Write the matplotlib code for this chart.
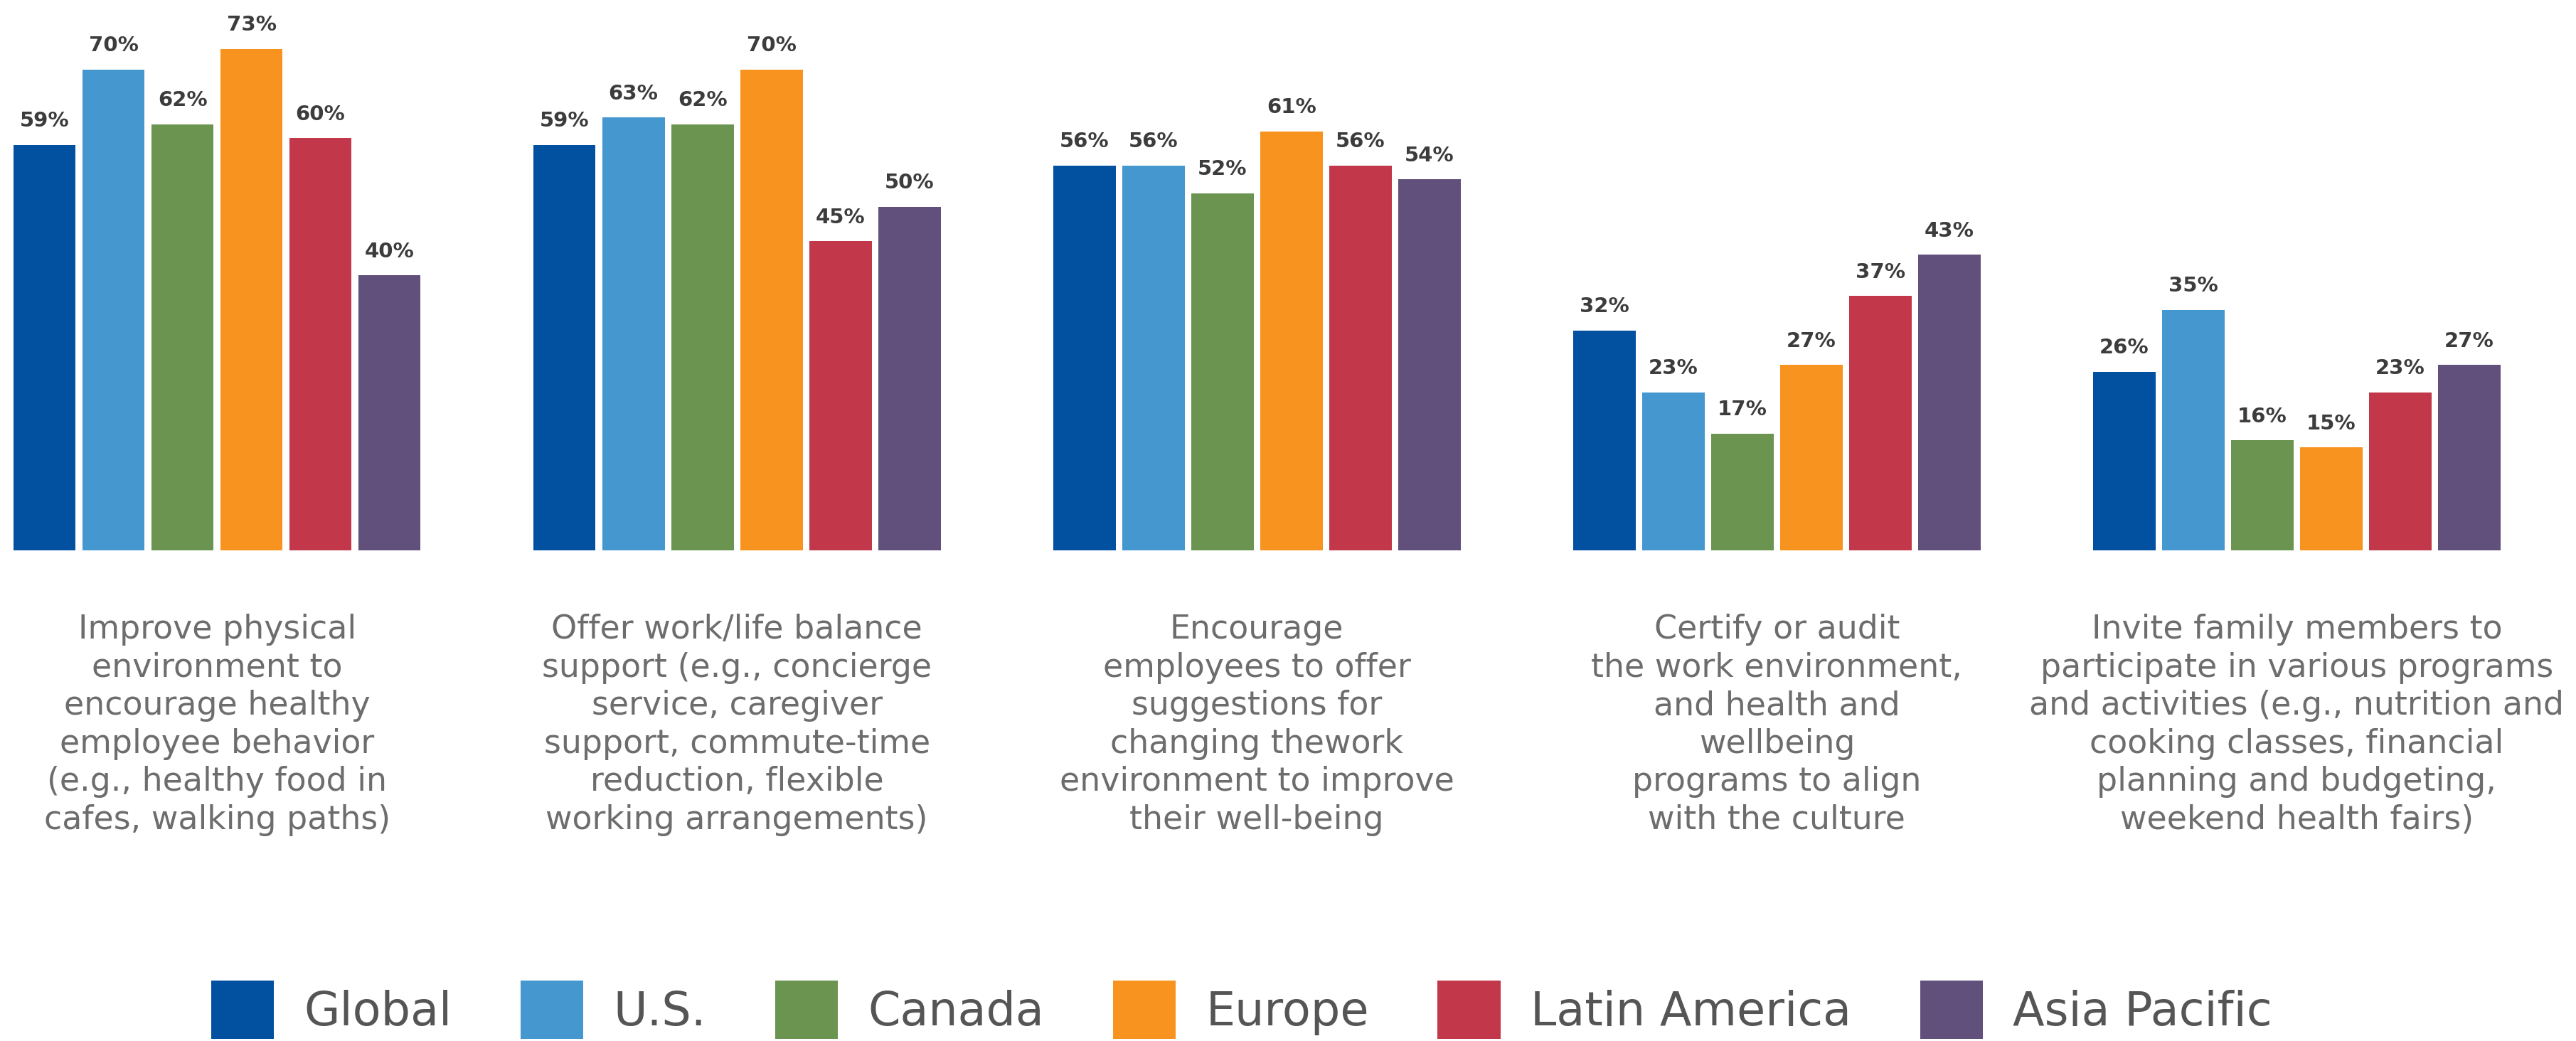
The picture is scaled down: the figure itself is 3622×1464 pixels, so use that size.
import matplotlib
matplotlib.use("Agg")
import matplotlib.pyplot as plt
import matplotlib.transforms as mtransforms
import numpy as np

# Survey results (% of employers) by region
regions = ["Global", "U.S.", "Canada", "Europe", "Latin America", "Asia Pacific"]
colors = ["#0251a1", "#4598cf", "#6b9451", "#f7931e", "#c3374a", "#61507b"]

categories = [
    "Improve physical\nenvironment to\nencourage healthy\nemployee behavior\n(e.g., healthy food in\ncafes, walking paths)",
    "Offer work/life balance\nsupport (e.g., concierge\nservice, caregiver\nsupport, commute-time\nreduction, flexible\nworking arrangements)",
    "Encourage\nemployees to offer\nsuggestions for\nchanging thework\nenvironment to improve\ntheir well-being",
    "Certify or audit\nthe work environment,\nand health and\nwellbeing\nprograms to align\nwith the culture",
    "Invite family members to\nparticipate in various programs\nand activities (e.g., nutrition and\ncooking classes, financial\nplanning and budgeting,\nweekend health fairs)",
]

global_vals = [59, 59, 56, 32, 26]
us_vals = [70, 63, 56, 23, 35]
canada_vals = [62, 62, 52, 17, 16]
europe_vals = [73, 70, 61, 27, 15]
latam_vals = [60, 45, 56, 37, 23]
apac_vals = [40, 50, 54, 43, 27]

series = [global_vals, us_vals, canada_vals, europe_vals, latam_vals, apac_vals]

W, H = 3622, 1464
fig = plt.figure(figsize=(W / 100, H / 100), dpi=100)
fig.patch.set_facecolor("white")

baseline_px = 774
ax = fig.add_axes([0, 1 - baseline_px / H, 1, baseline_px / H])

x = np.arange(len(categories))
step = 0.1327
width = 0.120
handles = []
for j, (name, vals, col) in enumerate(zip(regions, series, colors)):
    offs = (j - 2.5) * step
    bars = ax.bar(x + offs, vals, width=width, color=col, label=name)
    handles.append(bars)
    for xi, v in zip(x + offs, vals):
        ax.annotate(f"{v}%", (xi, v), xytext=(0, 14), textcoords="offset points",
                    ha="center", va="bottom", fontsize=21, fontweight="bold",
                    color="#3c3c3c")

ax.set_xlim(-0.4173, 4.537)
ax.set_ylim(0, 80.1)
ax.axis("off")

# Category descriptions under each group
trans = mtransforms.blended_transform_factory(ax.transData, fig.transFigure)
for xi, cat in zip(x, categories):
    ax.text(xi, 1 - 863 / H, cat, transform=trans, ha="center", va="top",
            fontsize=33, color="#6d6d6d", linespacing=1.245)

fig.legend(handles=handles, labels=regions, loc="center",
           bbox_to_anchor=(0.482, 0.030), ncol=6, frameon=False,
           fontsize=47, handlelength=1.35, handleheight=1.54,
           handletextpad=0.65, columnspacing=1.48, labelcolor="#555555")

fig.savefig("out.png", dpi=100, facecolor="white")
